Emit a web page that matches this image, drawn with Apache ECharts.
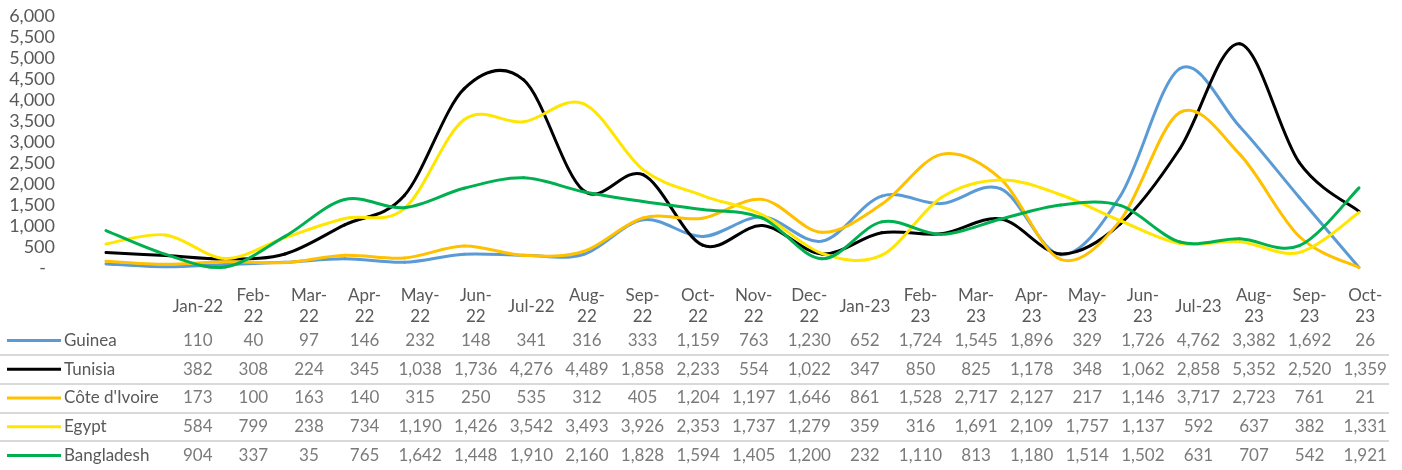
<!DOCTYPE html>
<html>
<head>
<meta charset="utf-8">
<script src="https://cdn.jsdelivr.net/npm/echarts@6/dist/echarts.min.js"></script>
<style>
html,body{margin:0;padding:0;background:#fff;}
#c{width:1402px;height:470px;}
</style>
</head>
<body>
<div id="c"></div>
<script>
// ---- data ----
const monthLabels = ['Jan-22','Feb-\n22','Mar-\n22','Apr-\n22','May-\n22','Jun-\n22','Jul-22','Aug-\n22','Sep-\n22','Oct-\n22','Nov-\n22','Dec-\n22',
  'Jan-23','Feb-\n23','Mar-\n23','Apr-\n23','May-\n23','Jun-\n23','Jul-23','Aug-\n23','Sep-\n23','Oct-\n23'];
const countries = ['Guinea','Tunisia',"Côte d'Ivoire",'Egypt','Bangladesh'];
const guinea      = [110,40,97,146,232,148,341,316,333,1159,763,1230,652,1724,1545,1896,329,1726,4762,3382,1692,26];
const tunisia     = [382,308,224,345,1038,1736,4276,4489,1858,2233,554,1022,347,850,825,1178,348,1062,2858,5352,2520,1359];
const coteDIvoire = [173,100,163,140,315,250,535,312,405,1204,1197,1646,861,1528,2717,2127,217,1146,3717,2723,761,21];
const egypt       = [584,799,238,734,1190,1426,3542,3493,3926,2353,1737,1279,359,316,1691,2109,1757,1137,592,637,382,1331];
const bangladesh  = [904,337,35,765,1642,1448,1910,2160,1828,1594,1405,1200,232,1110,813,1180,1514,1502,631,707,542,1921];
const yTicks = [0,500,1000,1500,2000,2500,3000,3500,4000,4500,5000,5500,6000];

// ---- styling ----
const seriesValues = [guinea, tunisia, coteDIvoire, egypt, bangladesh];
const colors = ['#5B9BD5','#000000','#FFC000','#FFE600','#00B050'];
const FONT = 'Lato';
const TXT = '#595959';
const months = monthLabels.map(s => s.replace('\n',''));
const fmt = v => v.toLocaleString('en-US');

// Excel-like smoothed line (Catmull-Rom segments), positioned through the axes via api.coord
function smoothSeries(name, values, color) {
  return {
    name, type: 'custom', xAxisIndex: 0, yAxisIndex: 0, silent: true,
    data: values.map((v, i) => [i, v]),
    encode: { x: 0, y: 1 },
    renderItem: (params, api) => {
      const i = params.dataIndex;
      const n = values.length;
      if (i >= n - 1) return null;
      const P = k => api.coord([Math.max(0, Math.min(n - 1, k)), values[Math.max(0, Math.min(n - 1, k))]]);
      const p0 = P(i - 1), p1 = P(i), p2 = P(i + 1), p3 = P(i + 2);
      const t = 1 / 6;
      return {
        type: 'bezierCurve',
        shape: {
          x1: p1[0], y1: p1[1], x2: p2[0], y2: p2[1],
          cpx1: p1[0] + (p2[0] - p0[0]) * t, cpy1: p1[1] + (p2[1] - p0[1]) * t,
          cpx2: p2[0] - (p3[0] - p1[0]) * t, cpy2: p2[1] - (p3[1] - p1[1]) * t
        },
        style: { stroke: color, lineWidth: 3, fill: null, lineCap: 'round', lineJoin: 'round' }
      };
    }
  };
}
const lineSeries = countries.map((name, i) => smoothSeries(name, seriesValues[i], colors[i]));

const tableData = [];
seriesValues.forEach((arr, r) => arr.forEach((v, c) => tableData.push([c, r, v])));

const rich = { n: { color: TXT, fontSize: 17, fontFamily: FONT, padding: [0,0,0,3] } };
colors.forEach((c, i) => { rich['k' + i] = { width: 54, height: 3, backgroundColor: c, verticalAlign: 'middle' }; });

const option = {
  animation: false,
  backgroundColor: '#ffffff',
  textStyle: { fontFamily: FONT },
  grid: [
    { left: 106, right: 43, top: 16.5, height: 252 },
    { left: 170, right: 9, top: 326, height: 150 },
    { left: 0, right: 13, top: 326, height: 150 }
  ],
  xAxis: [
    { type: 'category', gridIndex: 0, data: months, boundaryGap: false,
      axisLine: { show: false }, axisTick: { show: false }, axisLabel: { show: false }, splitLine: { show: false } },
    { type: 'category', gridIndex: 1, data: monthLabels, position: 'top', boundaryGap: true,
      axisLine: { show: false }, axisTick: { show: false }, splitLine: { show: false },
      axisLabel: { interval: 0, color: TXT, fontSize: 17, fontFamily: FONT, lineHeight: 21,
        verticalAlign: 'middle', align: 'center', margin: 19.5 } },
    { type: 'value', gridIndex: 2, min: 0, max: 1, show: false }
  ],
  yAxis: [
    { type: 'value', gridIndex: 0, min: yTicks[0], max: yTicks[yTicks.length - 1], interval: 500,
      axisLine: { show: false }, axisTick: { show: false }, splitLine: { show: false },
      axisLabel: { color: TXT, fontSize: 18, fontFamily: FONT, margin: 51,
        rich: { d: { color: TXT, fontSize: 18, fontFamily: FONT, padding: [0, 9, 0, 0] } },
        formatter: v => v === 0 ? '{d|-}' : fmt(v) } },
    { type: 'category', gridIndex: 1, data: countries, inverse: true, boundaryGap: true,
      axisLine: { show: false }, axisTick: { show: false }, splitLine: { show: false },
      axisLabel: { interval: 0, align: 'left', margin: 163, rich,
        formatter: (v, i) => '{k' + i + '|}{n|' + v + '}' } },
    { type: 'value', gridIndex: 2, min: 0, max: countries.length, interval: 1, inverse: true,
      axisLine: { show: false }, axisTick: { show: false }, axisLabel: { show: false },
      splitLine: { show: true, showMinLine: false, showMaxLine: false, lineStyle: { color: '#D9D9D9', width: 2 } } }
  ],
  series: [
    ...lineSeries,
    { type: 'scatter', xAxisIndex: 1, yAxisIndex: 1, data: tableData, symbolSize: 1,
      itemStyle: { color: 'rgba(0,0,0,0)' }, silent: true,
      label: { show: true, position: 'inside', color: TXT, fontSize: 17, fontFamily: FONT,
        formatter: p => fmt(p.value[2]) } }
  ]
};
echarts.init(document.getElementById('c'), null, { renderer: 'canvas' }).setOption(option);
</script>
</body>
</html>
